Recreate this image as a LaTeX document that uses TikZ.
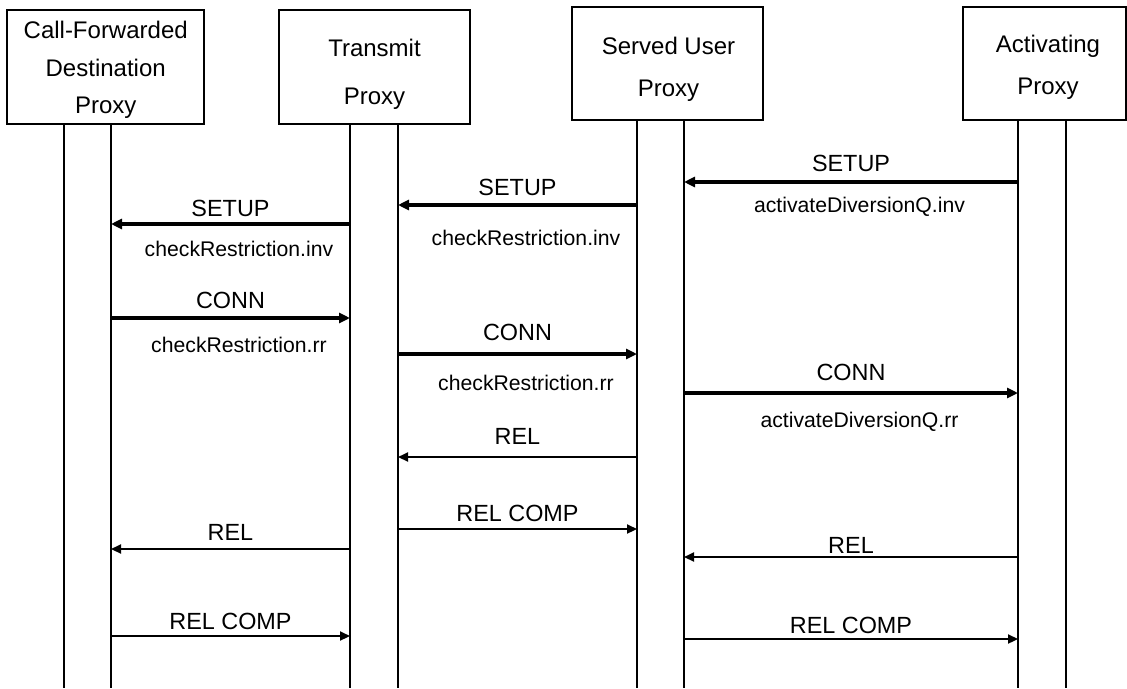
\documentclass[tikz,border=0pt]{standalone}
\usepackage{fontspec}
\setmainfont{Liberation Sans}
\usetikzlibrary{positioning,arrows.meta}

\begin{document}
\begin{tikzpicture}[x=1pt, y=-1pt]
      \tikzset{
	  proxy/.style={rectangle, draw=black, line width=1.8pt, inner sep=0pt},
	  proxytext/.style={inner sep=0pt, align=center, text=black, font=\fontsize{24}{#1}\selectfont},
	  life/.style={draw=black, line width=1.8pt},
	  heavy/.style={line width=4pt, -{Triangle[length=11pt,width=10pt]}},
	  light/.style={line width=2.2pt, -{Triangle[length=10pt,width=9pt]}},
	  msg/.style={midway, anchor=base, inner sep=0pt, font=\fontsize{23.4}{28}\selectfont},
	  info/.style={midway, anchor=base, inner sep=0pt, xshift=8.5pt, font=\fontsize{21.2}{26}\selectfont}
      }
      \useasboundingbox (0,0) rectangle (1127,688);

      % entities
      \node at (105.5,67) [proxy, minimum width=197pt, minimum height=114pt] (cfd) {};
      \node at (374.5,67) [proxy, minimum width=191pt, minimum height=114pt] (tp) {};
      \node at (667.5,63.5) [proxy, minimum width=191pt, minimum height=113pt] (sup) {};
      \node at (1044.5,63.5) [proxy, minimum width=163pt, minimum height=113pt] (ap) {};
      \node at (105.7,70.2) [proxytext=37.5pt] (cfdname) {Call-Forwarded\\Destination\\Proxy};
      \node at (374.5,74.2) [proxytext=47.3pt] (tpname) {Transmit\\Proxy};
      \node at (668.5,69) [proxytext=41.7pt] (supname) {Served User\\Proxy};
      \node at (1048,67.5) [proxytext=42.3pt] (apname) {Activating\\Proxy};

      % lifelines
      \coordinate (cfd1) at (64,124);   \coordinate (cfd2) at (111,124);
      \coordinate (tp1) at (350,124);   \coordinate (tp2) at (398,124);
      \coordinate (sup1) at (637,120);  \coordinate (sup2) at (684,120);
      \coordinate (ap1) at (1018,120);  \coordinate (ap2) at (1066,120);
      \foreach \l in {cfd1,cfd2,tp1,tp2,sup1,sup2,ap1,ap2}
	  \draw[life] (\l) -- (\l |- 0,688);

      % setup
      \draw[heavy] (ap1 |- 0,182) -- (sup2 |- 0,182)
	    node[msg, yshift=10.6pt] (setup1) {SETUP}
	    node[info, yshift=-30pt] (adqinv) {activateDiversionQ.inv};
      \draw[heavy] (sup1 |- 0,205) -- (tp2 |- 0,205)
	    node[msg, yshift=10pt] (setup2) {SETUP}
	    node[info, yshift=-40pt] (crinv2) {checkRestriction.inv};
      \draw[heavy] (tp1 |- 0,224) -- (cfd2 |- 0,224)
	    node[msg, yshift=8pt] (setup3) {SETUP}
	    node[info, yshift=-32.7pt] (crinv3) {checkRestriction.inv};

      % connect
      \draw[heavy] (cfd2 |- 0,318) -- (tp1 |- 0,318)
	    node[msg, yshift=9.7pt] (conn1) {CONN}
	    node[info, yshift=-34pt] (crrr1) {checkRestriction.rr};
      \draw[heavy] (tp2 |- 0,354) -- (sup1 |- 0,354)
	    node[msg, yshift=14pt] (conn2) {CONN}
	    node[info, yshift=-36pt] (crrr2) {checkRestriction.rr};
      \draw[heavy] (sup2 |- 0,393) -- (ap1 |- 0,393)
	    node[msg, yshift=13pt] (conn3) {CONN}
	    node[info, yshift=-34.7pt] (adqrr) {activateDiversionQ.rr};

      % release
      \draw[light] (sup1 |- 0,457) -- (tp2 |- 0,457) node[msg, yshift=13pt] (rel1) {REL};
      \draw[light] (tp2 |- 0,529) -- (sup1 |- 0,529) node[msg, yshift=7.3pt] (relc1) {REL COMP};
      \draw[light] (tp1 |- 0,549) -- (cfd2 |- 0,549) node[msg, yshift=9pt] (rel2) {REL};
      \draw[light] (ap1 |- 0,557) -- (sup2 |- 0,557) node[msg, yshift=3.7pt] (rel3) {REL};
      \draw[light] (cfd2 |- 0,636) -- (tp1 |- 0,636) node[msg, yshift=6.7pt] (relc2) {REL COMP};
      \draw[light] (sup2 |- 0,639) -- (ap1 |- 0,639) node[msg, yshift=5.7pt] (relc3) {REL COMP};
\end{tikzpicture}
\end{document}
